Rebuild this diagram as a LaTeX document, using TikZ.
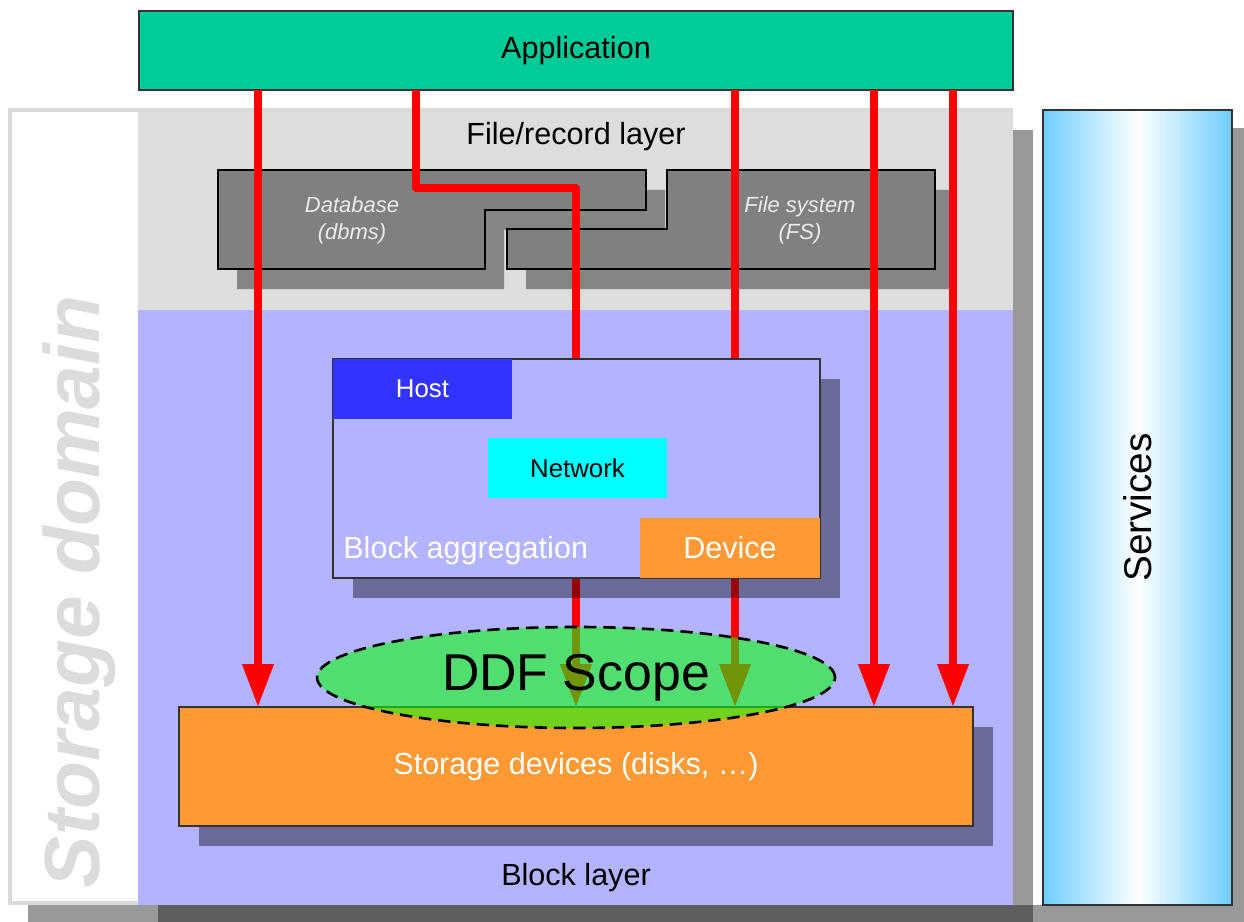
\documentclass[tikz,border=0pt]{standalone}
\usepackage{fontspec}
\setmainfont{Liberation Sans}
\usetikzlibrary{arrows.meta,shapes.geometric,shadows}
\definecolor{appgreen}{HTML}{00CC99}
\definecolor{layergray}{HTML}{DDDDDD}
\definecolor{framegray}{HTML}{DADADA}
\definecolor{blocklilac}{HTML}{B3B3FF}
\definecolor{hostblue}{HTML}{3333FF}
\definecolor{netcyan}{HTML}{00FFFF}
\definecolor{devorange}{HTML}{FF9933}
\definecolor{dbgray}{HTML}{808080}
\definecolor{dbshadow}{HTML}{858585}
\definecolor{svcblue}{HTML}{6DCDFF}
\definecolor{ddfgreen}{HTML}{11F911}
\definecolor{domaingray}{HTML}{DCDCDC}
\definecolor{arrowred}{HTML}{FF0000}
\definecolor{shadowgray}{HTML}{999999}
\definecolor{shadowdark}{HTML}{5E5E5E}
\begin{document}
\begin{tikzpicture}[x=0.02cm,y=-0.02cm,
  box/.style={rectangle,inner sep=0pt,outer sep=0pt},
  framed/.style={draw=black!80,line width=0.8pt},
  castshadow/.style={drop shadow={shadow xshift=0.4cm,shadow yshift=-0.4cm,fill=black,opacity=0.4}},
  flow/.style={draw=arrowred,line width=0.145cm,line join=round,-{Triangle[width=0.6cm,length=0.86cm]}},
  bigtext/.style={font=\fontsize{17.4pt}{20pt}\selectfont},
  midtext/.style={font=\fontsize{14.7pt}{17pt}\selectfont},
  dbtext/.style={font=\fontsize{12.5pt}{15.3pt}\selectfont\itshape,text=white!92!black,align=center},
  dbshape/.style={fill=dbgray,draw=black,line width=1.2pt,line join=miter}]

\clip (0,0) rectangle (1244,922);

% background shadows
\fill[shadowgray] (28,130) rectangle (1033,925);
\fill[shadowgray] (1063,128) rectangle (1252,925);
\fill[shadowgray] (1033,905) rectangle (1063,925);
\fill[shadowdark] (158,905) rectangle (1033,925);

% storage domain frame and layers
\draw[draw=framegray,line width=0.08cm,fill=white] (10,110) rectangle (1011,903);
\fill[layergray] (138,112) rectangle (1013,310);
\fill[blocklilac] (138,310) rectangle (1013,905);

% services
\node[box,framed,left color=svcblue,right color=svcblue,middle color=white,minimum width=3.78cm,minimum height=15.9cm] (svc) at (1137.5,507.5) {};
\node[rotate=90,font=\fontsize{22pt}{26pt}\selectfont] (svclabel) at (svc.center) {Services};

% storage domain label
\node[rotate=90,font=\fontsize{44.6pt}{50pt}\selectfont\bfseries\itshape,text=domaingray] (domain) at (79,592) {Storage domain};

% file/record layer
\node[bigtext] (filelabel) at (576,137) {File/record layer};
\begin{scope}[shift={(19,20)}]
  \fill[dbshadow] (218,170) -- (646,170) -- (646,210) -- (485,210) -- (485,269) -- (218,269) -- cycle;
  \fill[dbshadow] (667,170) -- (935,170) -- (935,269) -- (507,269) -- (507,229) -- (667,229) -- cycle;
\end{scope}
\draw[dbshape] (218,170) -- (646,170) -- (646,210) -- (485,210) -- (485,269) -- (218,269) -- cycle;
\draw[dbshape] (667,170) -- (935,170) -- (935,269) -- (507,269) -- (507,229) -- (667,229) -- cycle;
\node[dbtext] (dbl) at (352,220) {Database\\(dbms)};
\node[dbtext] (fsl) at (800,220) {File system\\(FS)};

% storage devices and application
\node[box,framed,castshadow,fill=devorange,minimum width=15.88cm,minimum height=2.38cm,bigtext,text=white] (stor) at (576,766.5) {Storage devices (disks, …)};
\node[box,framed,fill=appgreen,minimum width=17.48cm,minimum height=1.58cm,bigtext] (app) at (576,50.5) {Application};

% arrows
\coordinate (c1) at (258,0);
\coordinate (c2) at (416,0);
\coordinate (c3) at (576,0);
\coordinate (c4) at (735,0);
\coordinate (c5) at (874,0);
\coordinate (c6) at (953,0);
\coordinate (bend) at (0,188);
\draw[flow] (app.south -| c1) -- (stor.north -| c1);
\draw[flow] (app.south -| c2) -- (c2 |- bend) -- (c3 |- bend) -- (stor.north -| c3);
\draw[flow] (app.south -| c4) -- (stor.north -| c4);
\draw[flow] (app.south -| c5) -- (stor.north -| c5);
\draw[flow] (app.south -| c6) -- (stor.north -| c6);

% block aggregation
\node[box,framed,castshadow,fill=blocklilac,minimum width=9.74cm,minimum height=4.38cm] (agg) at (576.5,468.5) {};
\node[box,fill=hostblue,minimum width=3.58cm,minimum height=1.2cm,midtext,text=white] (host) at (422.5,389) {Host};
\node[box,fill=netcyan,minimum width=3.58cm,minimum height=1.2cm,midtext] (net) at (577.5,468) {Network};
\node[box,fill=devorange,minimum width=3.6cm,minimum height=1.2cm,bigtext,text=white] (dev) at (730,548) {Device};
\node[bigtext,text=white,anchor=west,inner sep=0pt] (agglabel) at (343,551) {Block aggregation};

% DDF scope
\node[ellipse,draw=black,line width=1.5pt,dash pattern=on 7pt off 4pt,fill=ddfgreen,fill opacity=0.6,text opacity=1,minimum width=10.36cm,minimum height=2.02cm,inner sep=0pt,font=\fontsize{29.5pt}{34pt}\selectfont] (ddf) at (576,677.5) {DDF Scope};

% block layer label
\node[bigtext] (blocklabel) at (576,878) {Block layer};
\end{tikzpicture}
\end{document}
